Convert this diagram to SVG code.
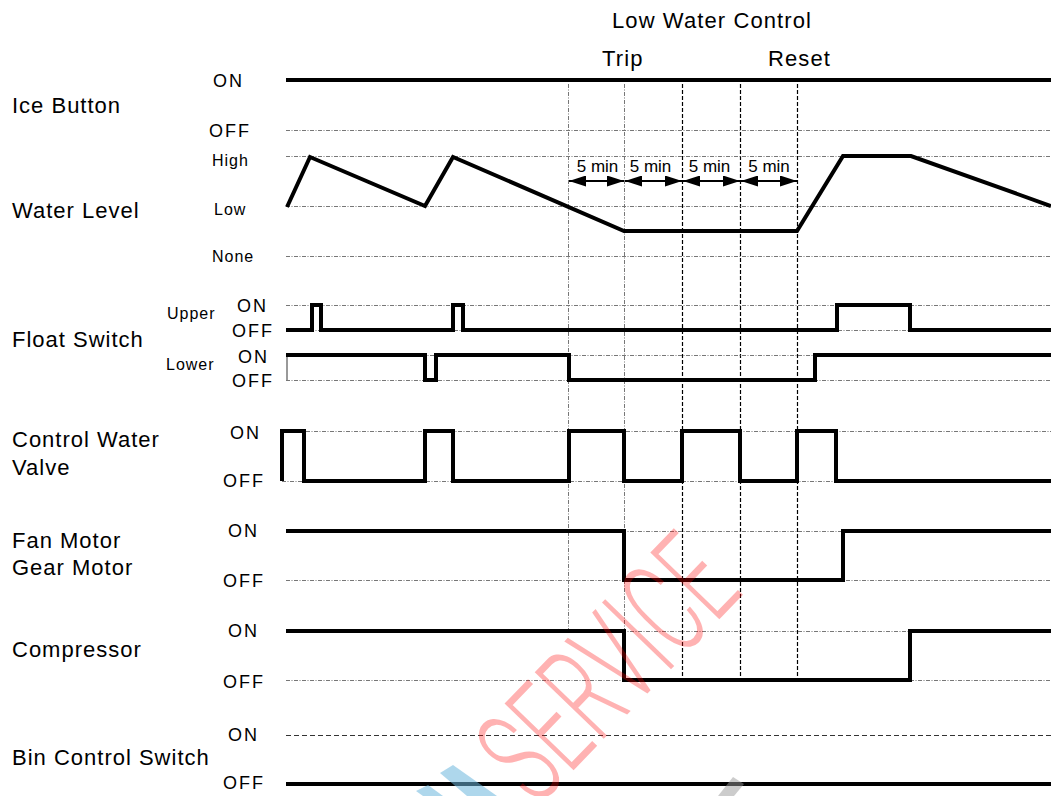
<svg xmlns="http://www.w3.org/2000/svg" width="1051" height="796" viewBox="0 0 1051 796">
<style>
text{font-family:"Liberation Sans",Arial,sans-serif;fill:#000}
.lbl{font-size:22px;letter-spacing:1px}
.top{font-size:22px;letter-spacing:1.1px}
.st{font-size:18px;letter-spacing:2px}
.lv{font-size:16px;letter-spacing:1px}
.min{font-size:17px;text-anchor:middle}
.ref{stroke:#777;stroke-width:1;stroke-dasharray:4 1.5 1 1.5;fill:none}
.vg{stroke:#777;stroke-width:1;stroke-dasharray:4 1.5 1 1.5;fill:none}
.vb{stroke:#000;stroke-width:1.2;stroke-dasharray:4 2;fill:none}
.dash{stroke:#333;stroke-width:1;stroke-dasharray:5 3;fill:none}
.tr{stroke:#000;stroke-width:4;fill:none;stroke-linejoin:miter}
.arr{stroke:#000;stroke-width:2;fill:none;marker-start:url(#ah);marker-end:url(#ah)}
.wm{font-family:Roboto,Lato,"Liberation Sans",sans-serif;font-weight:300;font-size:135px;fill:#ff0000;fill-opacity:0.3}
</style>
<defs>
<marker id="ah" viewBox="0 0 17 11" refX="17" refY="5.5" markerWidth="17" markerHeight="11" markerUnits="userSpaceOnUse" orient="auto-start-reverse">
<path d="M0,0 L17,5.5 L0,11 Z" fill="#000"/>
</marker>
</defs>
<rect width="1051" height="796" fill="#fff"/>

<g id="header">
<text class="top" x="612" y="28">Low Water Control</text>
<text class="top" x="602" y="66">Trip</text>
<text class="top" x="768" y="66">Reset</text>
</g>

<g id="connectors">
<line class="vg" x1="568.5" y1="84" x2="568.5" y2="630"/>
<line class="vg" x1="624.5" y1="84" x2="624.5" y2="680"/>
<line class="vb" x1="682.5" y1="84" x2="682.5" y2="680"/>
<line class="vb" x1="740.5" y1="84" x2="740.5" y2="680"/>
<line class="vb" x1="797.5" y1="84" x2="797.5" y2="680"/>
<line class="arr" x1="569" y1="181" x2="624" y2="181"/>
<line class="arr" x1="625" y1="181" x2="682" y2="181"/>
<line class="arr" x1="683" y1="181" x2="740" y2="181"/>
<line class="arr" x1="741" y1="181" x2="797" y2="181"/>
<text class="min" x="597.5" y="172">5 min</text>
<text class="min" x="650.5" y="172">5 min</text>
<text class="min" x="709.5" y="172">5 min</text>
<text class="min" x="769" y="172">5 min</text>
</g>

<g id="ice-button">
<text class="lbl" x="12" y="113">Ice Button</text>
<text class="st" x="213" y="87">ON</text>
<text class="st" x="209" y="137">OFF</text>
<line class="ref" x1="286" y1="130.5" x2="1051" y2="130.5"/>
<polyline class="tr" points="286,80 1051,80"/>
</g>

<g id="water-level">
<text class="lbl" x="12" y="218">Water Level</text>
<text class="lv" x="212" y="166">High</text>
<text class="lv" x="214" y="215">Low</text>
<text class="lv" x="212" y="262">None</text>
<line class="ref" x1="286" y1="156.5" x2="1051" y2="156.5"/>
<line class="ref" x1="286" y1="206.5" x2="1051" y2="206.5"/>
<line class="ref" x1="286" y1="256.5" x2="1051" y2="256.5"/>
<polyline class="tr" points="287,207 310,157 425,206 453,157 624,231 797,231 843,156 911,156 1051,206"/>
</g>

<g id="float-switch">
<text class="lbl" x="12" y="347">Float Switch</text>
<text class="lv" x="167" y="319">Upper</text>
<text class="lv" x="166" y="370">Lower</text>
<text class="st" x="237" y="312">ON</text>
<text class="st" x="232" y="337">OFF</text>
<text class="st" x="238" y="363">ON</text>
<text class="st" x="232" y="387">OFF</text>
<line class="ref" x1="286" y1="305.5" x2="1051" y2="305.5"/>
<line class="ref" x1="286" y1="330.5" x2="1051" y2="330.5"/>
<line class="ref" x1="286" y1="355.5" x2="1051" y2="355.5"/>
<line class="ref" x1="286" y1="380.5" x2="1051" y2="380.5"/>
<line x1="287" y1="355" x2="287" y2="380" stroke="#777" stroke-width="1.5"/>
<polyline class="tr" points="286,330 312,330 312,305 321,305 321,330 453,330 453,305 463,305 463,330 837,330 837,305 910,305 910,330 1051,330"/>
<polyline class="tr" points="286,355 425,355 425,380 436,380 436,355 569,355 569,380 815,380 815,355 1051,355"/>
</g>

<g id="control-water-valve">
<text class="lbl" x="12" y="447">Control Water</text>
<text class="lbl" x="12" y="475">Valve</text>
<text class="st" x="230" y="439">ON</text>
<text class="st" x="223" y="487">OFF</text>
<line class="ref" x1="282" y1="431.5" x2="1051" y2="431.5"/>
<line class="ref" x1="282" y1="481.5" x2="1051" y2="481.5"/>
<polyline class="tr" points="282,481 282,431 304,431 304,481 425,481 425,431 453,431 453,481 569,481 569,431 624,431 624,481 682,481 682,431 740,431 740,481 797,481 797,431 836,431 836,481 1051,481"/>
</g>

<g id="fan-gear-motor">
<text class="lbl" x="12" y="548">Fan Motor</text>
<text class="lbl" x="12" y="575">Gear Motor</text>
<text class="st" x="228" y="537">ON</text>
<text class="st" x="223" y="587">OFF</text>
<line class="ref" x1="286" y1="531.5" x2="1051" y2="531.5"/>
<line class="ref" x1="286" y1="580.5" x2="1051" y2="580.5"/>
<polyline class="tr" points="286,531 624,531 624,580 843,580 843,531 1051,531"/>
</g>

<g id="compressor">
<text class="lbl" x="12" y="657">Compressor</text>
<text class="st" x="228" y="637">ON</text>
<text class="st" x="223" y="688">OFF</text>
<line class="ref" x1="286" y1="631.5" x2="1051" y2="631.5"/>
<line class="ref" x1="286" y1="680.5" x2="1051" y2="680.5"/>
<polyline class="tr" points="286,631 624,631 624,680 910,680 910,631 1051,631"/>
</g>

<g id="bin-control-switch">
<text class="lbl" x="12" y="765">Bin Control Switch</text>
<text class="st" x="228" y="741">ON</text>
<text class="st" x="223" y="789">OFF</text>
<line class="dash" x1="286" y1="735.5" x2="1051" y2="735.5"/>
<polyline class="tr" points="286,784 1051,784"/>
</g>

<g id="watermark">
<polygon points="440,773 453,765 497,796 467,796" fill="#6bb6dc" fill-opacity="0.55"/>
<polygon points="416,791 428,785 443,796 423,796" fill="#6bb6dc" fill-opacity="0.55"/>
<polygon points="718,796 733,777 744,784 734,796" fill="#999" fill-opacity="0.5"/>
<text class="wm" transform="translate(537,808) rotate(-46) scale(0.57,1)">SERVICE</text>
</g>
</svg>
